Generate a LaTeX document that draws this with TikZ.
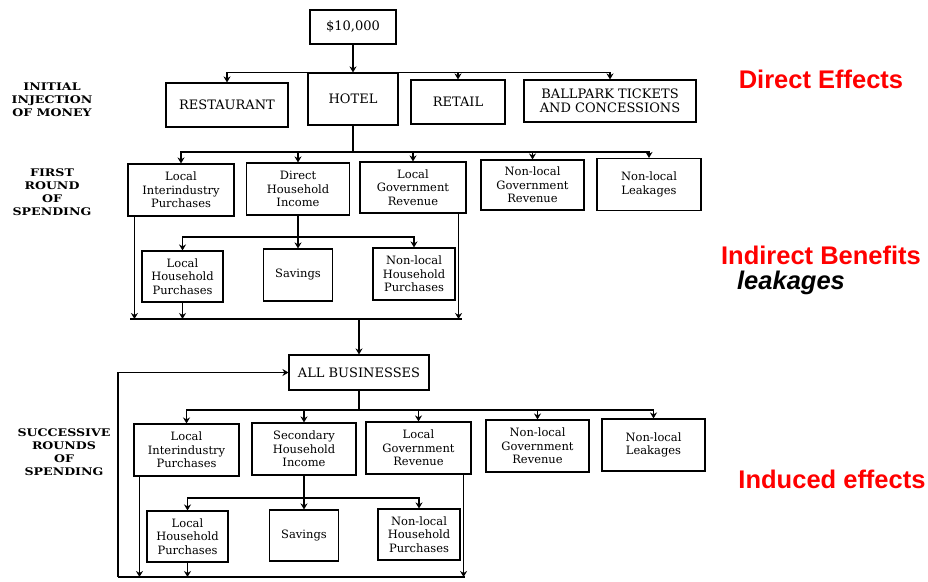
\documentclass[tikz,border=0pt]{standalone}
\usepackage{fontspec}
\usetikzlibrary{arrows.meta}
\setmainfont{DejaVu Serif}
\newfontfamily\widecaps[FakeStretch=1.2]{DejaVu Serif}
\newfontfamily\headfont{Liberation Sans}
\tikzset{
  box/.style={draw, line width=1.1pt, inner sep=1pt, align=center,
    font=\fontsize{11.5}{13.3}\selectfont},
  capbox/.style={box, font=\fontsize{13}{14}\selectfont},
  sidelabel/.style={align=center, font=\widecaps\bfseries\fontsize{10.5}{13.2}\selectfont},
  effect/.style={text=red, font=\headfont\bfseries\fontsize{25.5}{27}\selectfont}
}
\begin{document}
\begin{tikzpicture}[>={Stealth[length=6pt,width=7pt]}, x=1pt, y=-1pt, line width=1.1pt]
\useasboundingbox (0,0) rectangle (928,581);

\node[capbox, minimum width=86pt, minimum height=34pt] (money) at (353,27) {\$10,000};

\node[capbox, minimum width=122pt, minimum height=44pt] (restaurant) at (227,105) {RESTAURANT};
\node[capbox, minimum width=90pt, minimum height=52pt] (hotel) at (353,99) {HOTEL};
\node[capbox, minimum width=94pt, minimum height=44pt] (retail) at (458,102) {RETAIL};
\node[capbox, minimum width=172pt, minimum height=42pt] (ballpark) at (610,101) {BALLPARK TICKETS\\AND CONCESSIONS};

\node[box, minimum width=106pt, minimum height=52pt] (lip1) at (181,190) {Local\\Interindustry\\Purchases};
\node[box, minimum width=103pt, minimum height=52pt] (dhi) at (298,189) {Direct\\Household\\Income};
\node[box, minimum width=106pt, minimum height=51pt] (lgr1) at (413,187.5) {Local\\Government\\Revenue};
\node[box, minimum width=103pt, minimum height=50pt] (ngr1) at (532.5,185) {Non-local\\Government\\Revenue};
\node[box, minimum width=104pt, minimum height=52pt] (nll1) at (649,184.5) {Non-local\\Leakages};

\node[box, minimum width=81pt, minimum height=51pt] (lhp1) at (182.5,276.5) {Local\\Household\\Purchases};
\node[box, minimum width=69pt, minimum height=52pt] (sav1) at (298,275) {Savings};
\node[box, minimum width=82pt, minimum height=52pt] (nhp1) at (414,274) {Non-local\\Household\\Purchases};

\node[capbox, minimum width=140pt, minimum height=35pt] (allbus) at (359,372.5) {ALL BUSINESSES};

\node[box, minimum width=105pt, minimum height=52pt] (lip2) at (186.5,450) {Local\\Interindustry\\Purchases};
\node[box, minimum width=104pt, minimum height=52pt] (shi) at (304,449) {Secondary\\Household\\Income};
\node[box, minimum width=105pt, minimum height=52pt] (lgr2) at (418.5,448) {Local\\Government\\Revenue};
\node[box, minimum width=103pt, minimum height=52pt] (ngr2) at (537.5,446) {Non-local\\Government\\Revenue};
\node[box, minimum width=103pt, minimum height=52pt] (nll2) at (653.5,445) {Non-local\\Leakages};

\node[box, minimum width=81pt, minimum height=51pt] (lhp2) at (187.5,536.5) {Local\\Household\\Purchases};
\node[box, minimum width=69pt, minimum height=51pt] (sav2) at (304,535.5) {Savings};
\node[box, minimum width=82pt, minimum height=51pt] (nhp2) at (419,534.5) {Non-local\\Household\\Purchases};

\node[sidelabel] (initial) at (52,100) {INITIAL\\INJECTION\\OF MONEY};
\node[sidelabel] (first) at (52,192) {FIRST\\ROUND\\OF\\SPENDING};
\node[sidelabel] (successive) at (64,452) {SUCCESSIVE\\ROUNDS\\OF\\SPENDING};

\node[effect] (direct) at (821,79) {Direct Effects};
\node[effect] (indirect) at (821,255) {Indirect Benefits};
\node[font=\headfont\bfseries\itshape\fontsize{25.5}{27}\selectfont] (leak) at (791,283) {leakages};
\node[effect] (induced) at (832,479) {Induced effects};

\draw[->] (money) -- (hotel);
\draw[->] (hotel.north) -| (restaurant.north);
\draw[->] (hotel.north) -| (retail.north);
\draw[->] (hotel.north) -| (ballpark.north);

\coordinate (split2) at (353,152);
\draw (hotel) -- (split2);
\foreach \b in {lip1,dhi,lgr1,ngr1,nll1}
  \draw[->] (split2) -| (\b.north);

\coordinate (split3) at (298,237);
\draw[->] (dhi) -- (sav1);
\draw[->] (split3) -| (lhp1.north);
\draw[->] (split3) -| (nhp1.north);

\coordinate (joinL) at (130,319);
\coordinate (joinR) at (462,319);
\coordinate (join1) at (359,319);
\draw (joinL) -- (joinR);
\draw[->] ([xshift=7pt]lip1.south west) -- ([xshift=7pt]lip1.south west |- joinL);
\draw[->] (lhp1) -- (lhp1 |- joinL);
\draw[->] ([xshift=-8pt]lgr1.south east) -- ([xshift=-8pt]lgr1.south east |- joinL);
\draw[->] (join1) -- (allbus);

\coordinate (split4) at (359,410);
\draw (allbus) -- (split4);
\foreach \b in {lip2,shi,lgr2,ngr2,nll2}
  \draw[->] (split4) -| (\b.north);

\coordinate (split5) at (304,498);
\draw[->] (shi) -- (sav2);
\draw[->] (split5) -| (lhp2.north);
\draw[->] (split5) -| (nhp2.north);

\coordinate (loopL) at (118,577);
\coordinate (loopR) at (465,577);
\draw (loopL) -- (loopR);
\draw[->] ([xshift=6pt]lip2.south west) -- ([xshift=6pt]lip2.south west |- loopL);
\draw[->] (lhp2) -- (lhp2 |- loopL);
\draw[->] ([xshift=-8pt]lgr2.south east) -- ([xshift=-8pt]lgr2.south east |- loopL);
\draw[->] (loopL) |- (allbus.west);

\end{tikzpicture}
\end{document}
